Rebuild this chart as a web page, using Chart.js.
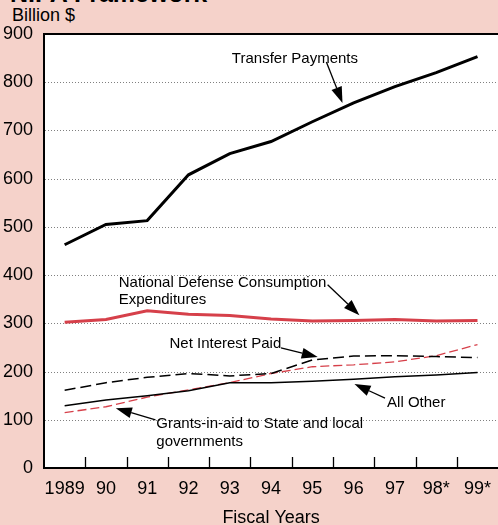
<!DOCTYPE html>
<html><head><meta charset="utf-8">
<script src="https://cdn.jsdelivr.net/npm/chart.js@4"></script>
<style>
html,body{margin:0;padding:0;background:#F5D2CA;overflow:hidden;width:498px;height:525px;}
#wrap{position:absolute;left:0;top:0;width:501px;height:529px;}
.t{position:absolute;font-family:"Liberation Sans",Arial,sans-serif;color:#000;white-space:nowrap;}
</style></head><body>
<div class="t" style="left:10px;top:-19px;font-size:25px;font-weight:bold;line-height:24px;">NIPA Framework</div>
<div class="t" style="left:12px;top:6px;font-size:18px;line-height:18px;">Billion $</div>
<div id="wrap"><canvas id="c" width="501" height="529"></canvas></div>
<script>
const years = ['1989','90','91','92','93','94','95','96','97','98*','99*'];
const transferPayments = [463,505,513,608,652,677,718,757,791,820,853];
const nationalDefense  = [302,308,326,319,316,309,305,306,308,305,306];
const netInterest      = [161,177,188,196,191,196,224,232,233,231,229];
const allOther         = [129,141,150,160,177,177,180,184,189,193,198];
const grants           = [115,127,147,162,177,196,210,214,220,233,256];
const yMin = 0, yMax = 900, yStep = 100;

const noteTexts = ['Transfer Payments','National Defense Consumption','Expenditures','Net Interest Paid','All Other','Grants-in-aid to State and local','governments'];
const noteAt = [[4.05,848],[1.31,384],[1.31,349],[2.54,257],[7.81,135],[2.22,91],[2.22,55]];
const arrowFrom = [[6.34,842],[6.37,380],[5.24,249],[7.76,145],[2.2,100]];
const arrowTo   = [[6.73,757],[7.14,317],[6.13,230],[7.02,174],[1.24,124]];

const RED = '#D6404A';
const FONT = '"Liberation Sans", Arial, sans-serif';

const decor = {
  id:'decor',
  beforeDatasetsDraw(chart){
    const {ctx, chartArea:a, scales:{x,y}} = chart;
    ctx.save();
    ctx.strokeStyle='#808080'; ctx.lineWidth=1; ctx.setLineDash([1,2]);
    for(let v=yMin+yStep; v<yMax; v+=yStep){
      const py=Math.round(y.getPixelForValue(v))+0.5;
      ctx.beginPath(); ctx.moveTo(a.left+1,py); ctx.lineTo(a.right,py); ctx.stroke();
    }
    ctx.setLineDash([]);
    ctx.strokeStyle='#000'; ctx.lineWidth=2;
    const pt=y.getPixelForValue(yMax);
    ctx.beginPath(); ctx.moveTo(a.left,pt); ctx.lineTo(a.right,pt); ctx.stroke();
    ctx.lineWidth=1.3;
    for(let i=1;i<years.length;i++){
      const px=Math.round(x.getPixelForValue(i-0.5))+0.5;
      ctx.beginPath(); ctx.moveTo(px,a.bottom); ctx.lineTo(px,a.bottom-11); ctx.stroke();
    }
    ctx.restore();
  },
  afterDatasetsDraw(chart){
    const {ctx, scales:{x,y}} = chart;
    ctx.save();
    ctx.fillStyle='#000'; ctx.font='15px '+FONT; ctx.textAlign='left'; ctx.textBaseline='middle';
    noteTexts.forEach((t,i)=>{ ctx.fillText(t, x.getPixelForValue(noteAt[i][0]), y.getPixelForValue(noteAt[i][1])); });
    ctx.strokeStyle='#000'; ctx.lineWidth=1.3;
    arrowFrom.forEach((f,i)=>{
      const x1=x.getPixelForValue(f[0]), y1=y.getPixelForValue(f[1]);
      const x2=x.getPixelForValue(arrowTo[i][0]), y2=y.getPixelForValue(arrowTo[i][1]);
      const ang=Math.atan2(y2-y1,x2-x1), L=16, W=5.5;
      const bx=x2-L*Math.cos(ang), by=y2-L*Math.sin(ang);
      ctx.beginPath(); ctx.moveTo(x1,y1); ctx.lineTo(bx,by); ctx.stroke();
      ctx.beginPath(); ctx.moveTo(x2,y2);
      ctx.lineTo(bx+W*Math.sin(ang), by-W*Math.cos(ang));
      ctx.lineTo(bx-W*Math.sin(ang), by+W*Math.cos(ang));
      ctx.closePath(); ctx.fill();
    });
    ctx.restore();
  }
};

const bgPlugin = {
  id:'plotbg',
  beforeDraw(chart){
    const {ctx, chartArea:a} = chart;
    ctx.save(); ctx.fillStyle='#fff'; ctx.fillRect(a.left,a.top,a.right-a.left,a.bottom-a.top); ctx.restore();
  }
};

new Chart(document.getElementById('c'), {
  type:'line',
  data:{
    labels: years,
    datasets:[
      {label:'Transfer Payments', data:transferPayments, borderColor:'#000', borderWidth:3},
      {label:'National Defense Consumption Expenditures', data:nationalDefense, borderColor:RED, borderWidth:3},
      {label:'Net Interest Paid', data:netInterest, borderColor:'#000', borderWidth:1.5, borderDash:[11,5]},
      {label:'All Other', data:allOther, borderColor:'#000', borderWidth:1.5},
      {label:'Grants-in-aid to State and local governments', data:grants, borderColor:RED, borderWidth:1.3, borderDash:[9,4]}
    ]
  },
  options:{
    responsive:false, animation:false, devicePixelRatio:1,
    layout:{padding:{top:34,left:0,right:0,bottom:0}},
    elements:{point:{radius:0}, line:{tension:0, borderCapStyle:'butt', borderJoinStyle:'miter'}},
    plugins:{legend:{display:false}, tooltip:{enabled:false}, title:{display:false}},
    scales:{
      x:{
        offset:true,
        grid:{display:false, drawTicks:false},
        border:{display:true, color:'#000', width:2},
        ticks:{color:'#000', font:{family:FONT,size:18}, padding:10, maxRotation:0, autoSkip:false},
        title:{display:true, text:'Fiscal Years', color:'#000', font:{family:FONT,size:18}, padding:{top:8,bottom:0}},
        afterFit(s){ s.height=61; }
      },
      y:{
        min:yMin, max:yMax,
        grid:{display:false, drawTicks:false},
        border:{display:true, color:'#000', width:2},
        ticks:{stepSize:yStep, color:'#000', font:{family:FONT,size:18}, padding:11},
        afterFit(s){ s.width=44; }
      }
    }
  },
  plugins:[bgPlugin, decor]
});
</script>
</body></html>
